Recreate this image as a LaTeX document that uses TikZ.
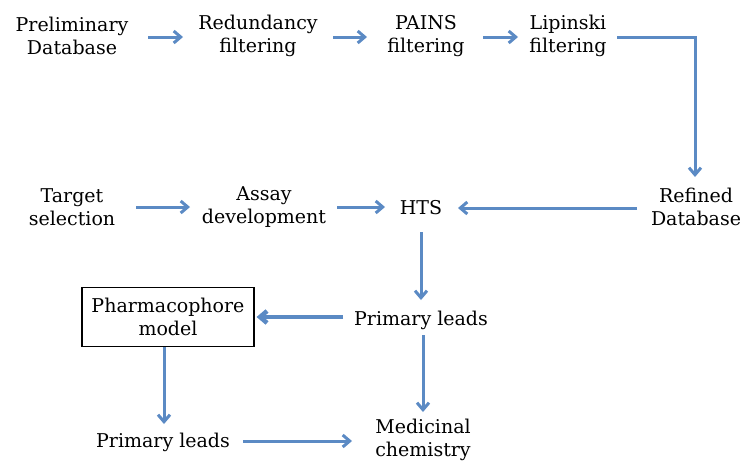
\documentclass[tikz,border=0pt]{standalone}
\usepackage{fontspec}
\setmainfont{DejaVu Serif}
\usepackage{tikz}
\usetikzlibrary{arrows.meta,positioning}
\definecolor{flowblue}{RGB}{91,138,196}

\begin{document}
\begin{tikzpicture}[x=1pt,y=-1pt, arrow/.style = {flowblue,line width=3pt,-{Straight Barb[length=7pt,width=12pt]}}]
		\tikzset{step box/.style={align=center,inner sep=0pt,font=\fontsize{19}{23}\selectfont},
			pharma/.style={draw,line width=1.2pt,rectangle,minimum width=172pt,minimum height=59pt,align=center,font=\fontsize{19}{23}\selectfont}}
		\useasboundingbox (0,0) rectangle (740,461);

		% Database preparation
		\node[step box] (prelim) at (72,36) {Preliminary\\Database};
		\node[step box] (redund) at (258,36) {Redundancy\\filtering};
		\node[step box] (pains) at (426,36) {PAINS\\filtering};
		\node[step box] (lipinski) at (568,36) {Lipinski\\filtering};
		\node[step box] (refined) at (696,207) {Refined\\Database};

		% Target side
		\node[step box] (target) at (72,207) {Target\\selection};
		\node[step box] (assay) at (264,207) {Assay\\development};
		\node[step box] (hts) at (421,208) {HTS};

		% Leads
		\node[step box] (leads) at (421,320) {Primary leads};
		\node[pharma] (model) at (168,317) {Pharmacophore\\model};
		\node[step box] (leads2) at (163,442) {Primary leads};
		\node[step box] (medchem) at (423,440) {Medicinal\\chemistry};

		% Arrows
		\draw [arrow] ([shift={(76,1)}]prelim.center) -- ([shift={(-75,1)}]redund.center);
		\draw [arrow] ([shift={(75,1)}]redund.center) -- ([shift={(-59,1)}]pains.center);
		\draw [arrow] ([shift={(57,1)}]pains.center) -- ([shift={(-50,1)}]lipinski.center);
		\draw [arrow] ([shift={(49,1)}]lipinski.center) -| ([shift={(-1,-30)}]refined.center);
		\draw [arrow] ([shift={(-59,1)}]refined.center) -- ([shift={(37,0)}]hts.center);
		\draw [arrow] ([xshift=64]target.center) -- ([xshift=-74]assay.center);
		\draw [arrow] ([xshift=73]assay.center) -- ([shift={(-36,-1)}]hts.center);
		\draw [arrow] ([shift={(0,24)}]hts.center) -- ([shift={(0,-20)}]leads.center);
		\draw [arrow, line width=4.5pt] ([shift={(-78,-3)}]leads.center) -- ([xshift=2]model.east);
		\draw [arrow] ([xshift=-4]model.south) -- ([shift={(1,-18)}]leads2.center);
		\draw [arrow] ([shift={(80,-1)}]leads2.center) -- ([shift={(-71,1)}]medchem.center);
		\draw [arrow] ([shift={(2,15)}]leads.center) -- ([shift={(0,-28)}]medchem.center);

	\end{tikzpicture}
\end{document}
